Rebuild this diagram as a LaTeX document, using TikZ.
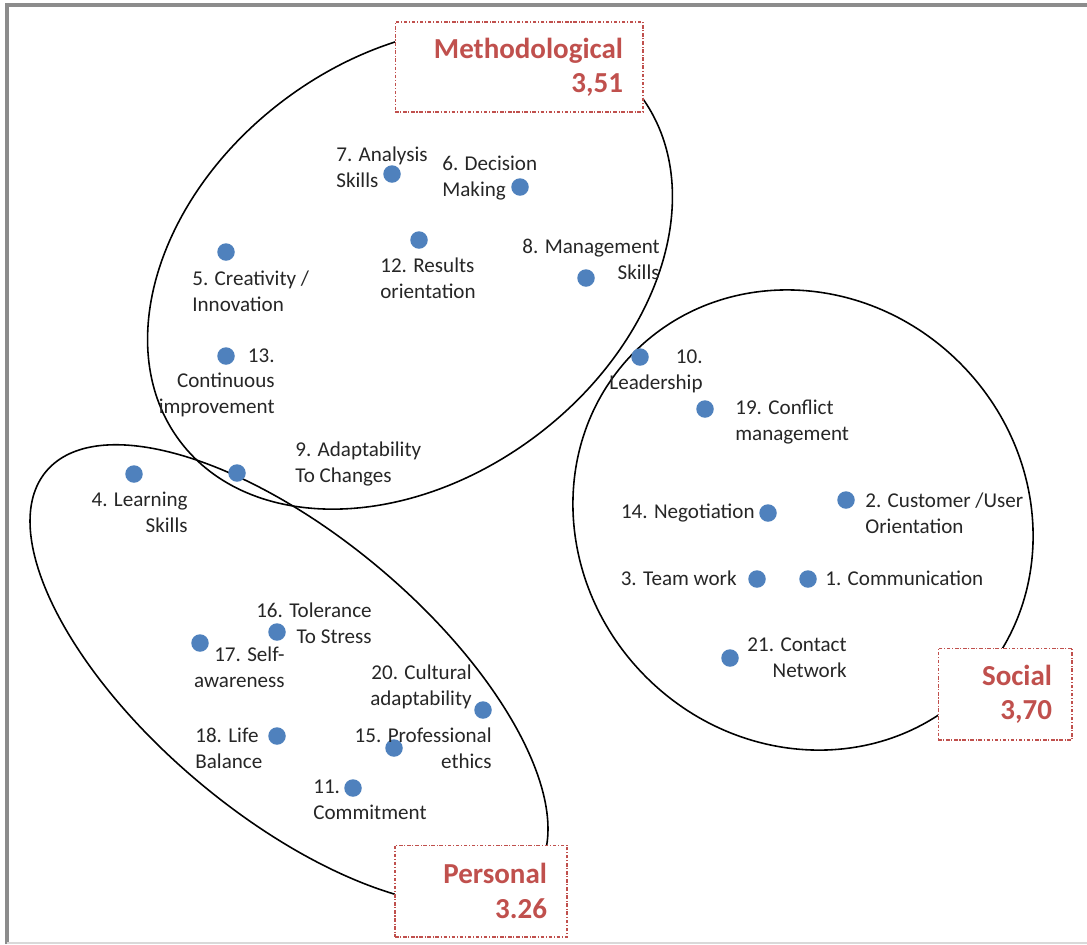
\documentclass[tikz,border=0pt]{standalone}
\usepackage{fontspec}
\setmainfont{Carlito}
\usepackage{xcolor}
\usepackage{tikz}
\usetikzlibrary{shapes.geometric}
\definecolor{dotblue}{HTML}{4F81BD}
\definecolor{catred}{HTML}{C0504D}
\definecolor{framegray}{HTML}{8C8C8C}

\begin{document}
\begin{tikzpicture}[
  x=0.02cm, y=-0.02cm,
  dot/.style={circle, fill=dotblue, inner sep=0pt, minimum size=0.35cm},
  lbl/.style={inner sep=0pt, font=\fontsize{12}{14.5}\selectfont, text=black!85},
  lbll/.style={lbl, align=left, anchor=base west},
  lblr/.style={lbl, align=right, anchor=base east},
  cluster/.style={draw, ellipse, line width=0.9pt, inner sep=0pt},
  catbox/.style={draw=catred, fill=white, dash pattern=on 2pt off 1pt on 0.6pt off 1pt, line width=0.6pt,
    inner xsep=0.4cm, inner ysep=0pt, align=right, text=catred, font=\fontsize{16.5}{19.5}\selectfont\bfseries}
]
\useasboundingbox (0,0) rectangle (1087,944);
\draw[framegray, line width=2pt] (7,944) |- (1087,5);
\draw[black!15, line width=0.8pt] (7,943) -- (1087,943);

\node[cluster, minimum width=11.52cm, minimum height=8.4cm, rotate=37] (meth) at (410,268) {};
\node[cluster, minimum width=12.68cm, minimum height=5.6cm, rotate=-40] (pers) at (289,675) {};
\node[cluster, minimum width=9.52cm, minimum height=8.88cm, rotate=-45] (soc) at (803,520) {};

\node[catbox, minimum width=4.96cm, minimum height=1.8cm, text width=4.16cm] (methbox) at (519,67) {Methodological\\3,51};
\node[catbox, minimum width=2.68cm, minimum height=1.84cm, text width=1.88cm] (socbox) at (1005,694) {Social\\3,70};
\node[catbox, minimum width=3.44cm, minimum height=1.84cm, text width=2.64cm] (persbox) at (481,891) {Personal\\3.26};

\node[dot] (d1) at (808,579) {};
\node[dot] (d2) at (846,500) {};
\node[dot] (d3) at (757,579) {};
\node[dot] (d4) at (134,474) {};
\node[dot] (d5) at (226,252) {};
\node[dot] (d6) at (520,187) {};
\node[dot] (d7) at (392,174) {};
\node[dot] (d8) at (586,278) {};
\node[dot] (d9) at (237,473) {};
\node[dot] (d10) at (640,357) {};
\node[dot] (d11) at (353,788) {};
\node[dot] (d12) at (419,240) {};
\node[dot] (d13) at (226,356) {};
\node[dot] (d14) at (768,513) {};
\node[dot] (d15) at (394,748) {};
\node[dot] (d16) at (277,632) {};
\node[dot] (d17) at (200,643) {};
\node[dot] (d18) at (277,736) {};
\node[dot] (d19) at (705,409) {};
\node[dot] (d20) at (483,710) {};
\node[dot] (d21) at (730,658) {};

\node[lbll] (l1) at (825,585) {1. Communication};
\node[lbll] (l2) at (865,533) {2. Customer /User\\Orientation};
\node[lblr] (l3) at (737,585) {3. Team work};
\node[lblr] (l4) at (188,532) {4. Learning\\Skills};
\node[lbll] (l5) at (192,311) {5. Creativity /\\Innovation};
\node[lbll] (l6) at (442,196) {6. Decision\\Making};
\node[lbll] (l7) at (336,187) {7. Analysis\\Skills};
\node[lblr] (l8) at (660,279) {8. Management\\Skills};
\node[lbll] (l9) at (295,482) {9. Adaptability\\To Changes};
\node[lblr] (l10) at (703,389) {10.\\Leadership};
\node[lbll] (l11) at (313,819) {11.\\Commitment};
\node[lbll] (l12) at (380,298) {12. Results\\orientation};
\node[lblr] (l13) at (275,413) {13.\\Continuous\\improvement};
\node[lblr] (l14) at (755,518) {14. Negotiation};
\node[lblr] (l15) at (492,768) {15. Professional\\ethics};
\node[lblr] (l16) at (372,643) {16. Tolerance\\To Stress};
\node[lblr] (l17) at (285,687) {17. Self-\\awareness};
\node[lbll] (l18) at (195,768) {18. Life\\Balance};
\node[lbll] (l19) at (735,440) {19. Conflict\\management};
\node[lblr] (l20) at (472,705) {20. Cultural\\adaptability};
\node[lblr] (l21) at (847,677) {21. Contact\\Network};
\end{tikzpicture}
\end{document}
